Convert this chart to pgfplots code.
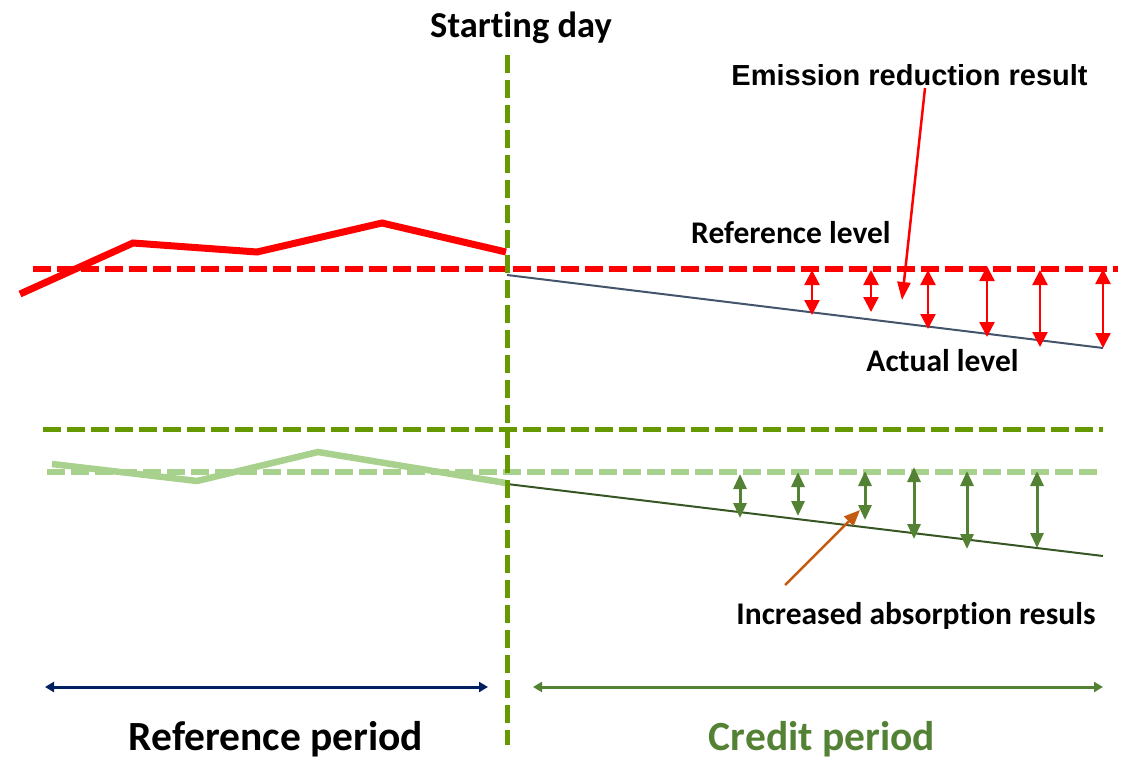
\documentclass[border=0pt]{standalone}
\usepackage{pgfplots}
\pgfplotsset{compat=1.18}
\usepackage{fontspec}
\usetikzlibrary{arrows.meta}
\newfontfamily\calibri[Ligatures=NoCommon]{Carlito}
\newfontfamily\arial{Liberation Sans}
\definecolor{vgreen}{RGB}{102,153,0}
\definecolor{lgreen}{RGB}{169,209,142}
\definecolor{dgreen}{RGB}{55,86,35}
\definecolor{mgreen}{RGB}{84,130,53}
\definecolor{greyblue}{RGB}{68,84,106}
\definecolor{navy}{RGB}{0,32,96}
\definecolor{orng}{RGB}{197,90,17}
\begin{document}
\begin{tikzpicture}
\begin{axis}[
  x=1pt, y=1pt, xmin=0, xmax=1122, ymin=0, ymax=761,
  y dir=reverse, hide axis, clip=false,
  scale only axis,
]
% reference period emission line
\addplot[red, line width=7pt] coordinates {(20,294)(133,243)(257,252)(382,223)(506,252)};
% reference level (red dashed)
\addplot[red, line width=5.5pt, dash pattern=on 18pt off 6pt] coordinates {(33,269)(1118,269)};
% actual level
\addplot[greyblue, line width=2pt] coordinates {(507,275)(1103,348)};
% dark green dashed
\addplot[vgreen, line width=5pt, dash pattern=on 18pt off 6pt] coordinates {(43,429)(1103,429)};
% light green solid
\addplot[lgreen, line width=6.5pt] coordinates {(52,464)(197,481)(318,452)(506,483)};
% light green dashed
\addplot[lgreen, line width=5.5pt, dash pattern=on 18pt off 6pt] coordinates {(47,472)(1100,472)};
% dark green thin line
\addplot[dgreen, line width=2pt] coordinates {(507,484)(1103,556)};
% starting day vertical
\addplot[vgreen, line width=5pt, dash pattern=on 18pt off 7pt] coordinates {(507,55)(507,745)};
% red double arrows
\pgfplotsset{redarr/.style={red, line width=2.3pt, {Triangle[width=15pt,length=15pt]}-{Triangle[width=15pt,length=15pt]}}}
\addplot[redarr] coordinates {(812,270)(812,315)};
\addplot[redarr] coordinates {(871,270)(871,312)};
\addplot[redarr] coordinates {(928,270)(928,329)};
\addplot[redarr] coordinates {(987,266)(987,337)};
\addplot[redarr] coordinates {(1040,270)(1040,347)};
\addplot[redarr] coordinates {(1103,269)(1103,348)};
% green double arrows
\pgfplotsset{greenarr/.style={mgreen, line width=3pt, {Triangle[width=13pt,length=15pt]}-{Triangle[width=13pt,length=15pt]}}}
\addplot[greenarr] coordinates {(740,474)(740,518)};
\addplot[greenarr] coordinates {(798,472)(798,516)};
\addplot[greenarr] coordinates {(865,471)(865,520)};
\addplot[greenarr] coordinates {(914,467)(914,539)};
\addplot[greenarr] coordinates {(967,471)(967,549)};
\addplot[greenarr] coordinates {(1037,471)(1037,548)};
% pointers
\addplot[red, line width=2.5pt, -{Triangle[width=13pt,length=18pt]}] coordinates {(925,88)(902,300)};
\addplot[orng, line width=2.5pt, -{Triangle[width=13pt,length=16pt]}] coordinates {(785,585)(860,510)};
% period arrows
\addplot[navy, line width=3pt, {Triangle[width=10pt,length=9pt]}-{Triangle[width=10pt,length=9pt]}] coordinates {(45,687)(488,687)};
\addplot[mgreen, line width=3pt, {Triangle[width=10pt,length=9pt]}-{Triangle[width=10pt,length=9pt]}] coordinates {(533,687)(1103,687)};
% texts
\node[anchor=base, font=\calibri\bfseries\fontsize{36.5}{40}\selectfont] at (axis cs:521,37) {Starting day};
\node[anchor=base, font=\arial\bfseries\fontsize{29}{32}\selectfont] at (axis cs:909.5,85) {Emission reduction result};
\node[anchor=base, font=\calibri\bfseries\fontsize{31.5}{34}\selectfont] at (axis cs:791,243) {Reference level};
\node[anchor=base, font=\calibri\bfseries\fontsize{31.5}{34}\selectfont] at (axis cs:942.5,371) {Actual level};
\node[anchor=base, font=\calibri\bfseries\fontsize{31.5}{34}\selectfont] at (axis cs:916,624) {Increased absorption resuls};
\node[anchor=base, font=\calibri\bfseries\fontsize{41.5}{46}\selectfont] at (axis cs:276,750) {Reference period};
\node[anchor=base, text=mgreen, font=\calibri\bfseries\fontsize{41.5}{46}\selectfont] at (axis cs:822,750) {Credit period};
\end{axis}
\pgfresetboundingbox
\path[use as bounding box] (0,0) rectangle (1122pt,761pt);
\end{tikzpicture}
\end{document}
